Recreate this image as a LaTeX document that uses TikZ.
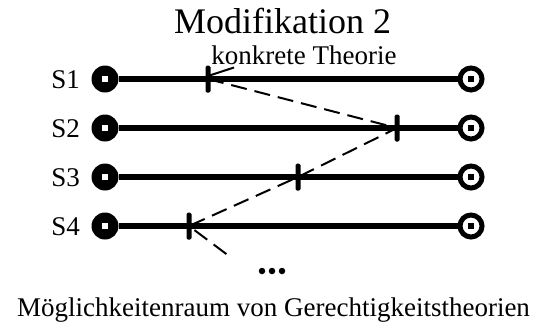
\documentclass[tikz,border=0pt]{standalone}
\usepackage{fontspec}
\setmainfont{Liberation Serif}
\begin{document}
\begin{tikzpicture}[x=1pt,y=-1pt,
  txt/.style={inner sep=0pt,anchor=base,font=\fontsize{27}{30}\selectfont},
  ttl/.style={inner sep=0pt,anchor=base,font=\fontsize{36}{40}\selectfont},
  leftdot/.style={circle,fill=black,minimum size=27pt,inner sep=0pt,
    path picture={\fill[white] ([xshift=-3pt,yshift=-3pt]path picture bounding box.center) rectangle ([xshift=3pt,yshift=3pt]path picture bounding box.center);}},
  rightdot/.style={circle,draw=black,line width=5pt,fill=white,minimum size=22pt,inner sep=0pt,
    path picture={\fill[black] ([xshift=-3pt,yshift=-3pt]path picture bounding box.center) rectangle ([xshift=3pt,yshift=3pt]path picture bounding box.center);}},
  track/.style={line width=5.5pt},
  tickmark/.style={rectangle,fill=black,minimum width=5pt,minimum height=27pt,inner sep=0pt,rounded corners=1.5pt},
  dashline/.style={line width=2pt,dash pattern=on 16pt off 8pt},
  ptr/.style={line width=2pt},
  dotmark/.style={circle,fill=black,minimum size=6.5pt,inner sep=0pt}
]
\useasboundingbox (0,0) rectangle (538,327);

\node[ttl] (title) at (282.5,33) {Modifikation 2};
\node[txt] (konk) at (304,64) {konkrete Theorie};

\foreach \i/\y in {1/79,2/128,3/177,4/226}{
  \node[txt,anchor=base east] (S\i) at (80,\y+9.5) {S\i};
  \node[leftdot] (L\i) at (105,\y) {};
  \node[rightdot] (R\i) at (471,\y) {};
  \draw[track] (L\i) -- (R\i);
}

\node[tickmark] (T1) at (208,79) {};
\node[tickmark] (T2) at (397,128) {};
\node[tickmark] (T3) at (298,177) {};
\node[tickmark] (T4) at (189,226) {};

\coordinate (K) at (234,67.5);
\coordinate (E) at (229,256);
\coordinate (T1a) at (208,76);
\draw[ptr] (T1a) -- (K);
\draw[dashline] (T1.center) -- (T2.center) -- (T3.center) -- (T4.center) -- (E);

\node[dotmark] (d1) at (262,271) {};
\node[dotmark] (d2) at (272,271) {};
\node[dotmark] (d3) at (282,271) {};

\node[txt] (bottom) at (273.5,316) {Möglichkeitenraum von Gerechtigkeitstheorien};
\end{tikzpicture}
\end{document}
